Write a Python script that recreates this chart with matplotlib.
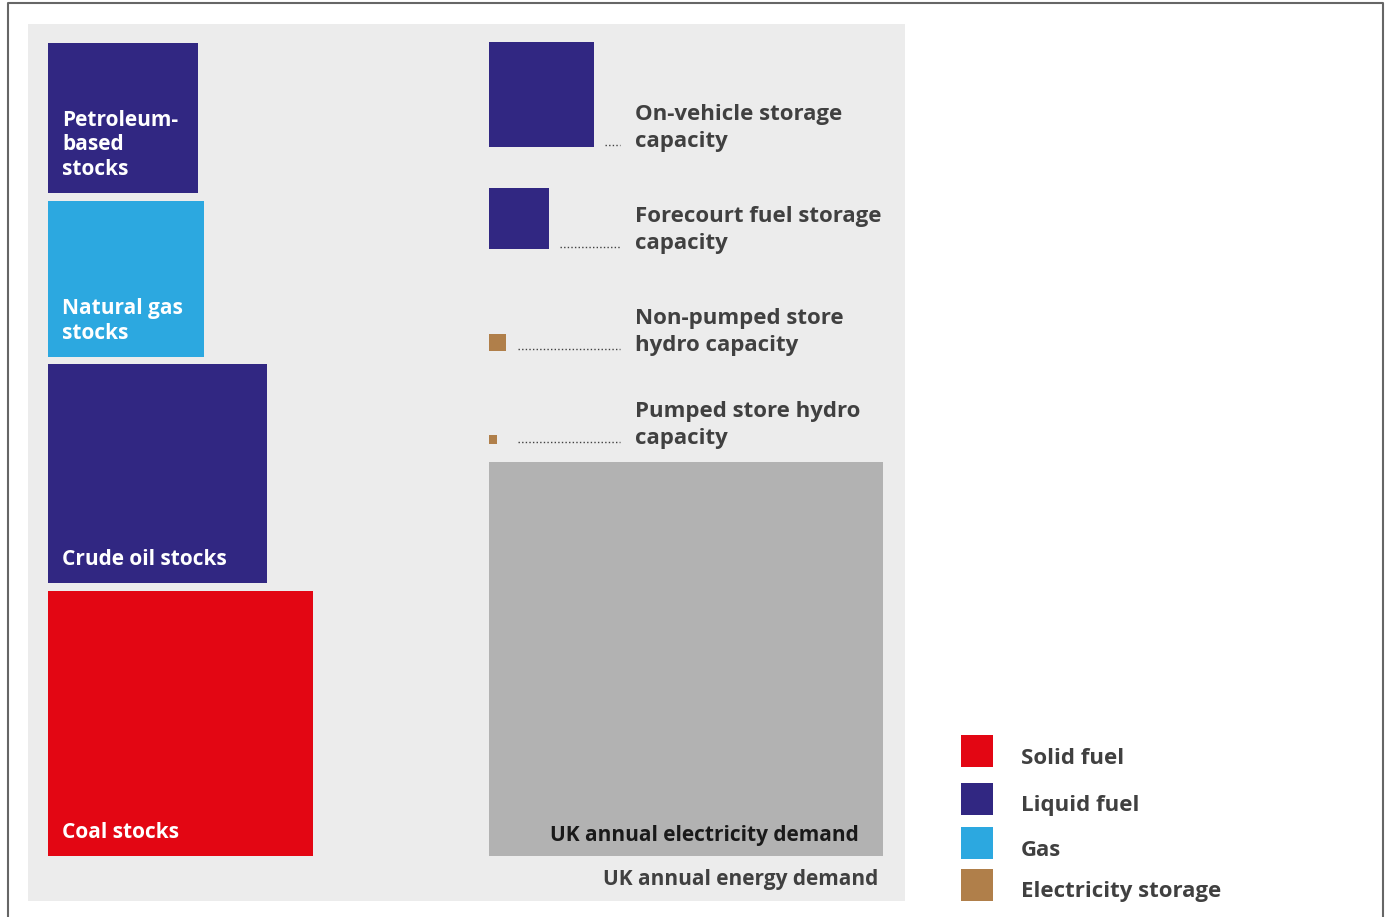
import numpy as np
import matplotlib.pyplot as plt
from matplotlib.patches import Rectangle

plt.rcParams['font.family'] = ['Open Sans', 'DejaVu Sans']

# energy quantities in TWh (square area is proportional to value)
total_demand = 1650.0
elec_demand = 333.0

left_labels = ["Petroleum-\nbased\nstocks", "Natural gas\nstocks", "Crude oil stocks", "Coal stocks"]
left_values = [48.3, 52.2, 102.9, 150.7]
left_kinds = ["liquid", "gas", "liquid", "solid"]

right_labels = ["On-vehicle storage\ncapacity", "Forecourt fuel storage\ncapacity",
                "Non-pumped store\nhydro capacity", "Pumped store hydro\ncapacity"]
right_values = [23.7, 7.98, 0.62, 0.17]
right_kinds = ["liquid", "liquid", "elec", "elec"]

legend_labels = ["Solid fuel", "Liquid fuel", "Gas", "Electricity storage"]
legend_kinds = ["solid", "liquid", "gas", "elec"]

colors = {"solid": "#e30613", "liquid": "#312782", "gas": "#2ca8e0", "elec": "#b07f4a"}
txt = "#404040"

W, H = 1389, 917
fig = plt.figure(figsize=(W / 100, H / 100), dpi=100)
ax = fig.add_axes([0, 0, 1, 1])
ax.set_xlim(0, W)
ax.set_ylim(H, 0)
ax.axis("off")

# outer frame
ax.plot([8, 8, 1383, 1383], [H + 5, 3, 3, H + 5], color="#666666", lw=1.5)

panel_x, panel_y = 28, 24
side_px = 877
k = side_px / np.sqrt(total_demand)


def side(v):
    return k * np.sqrt(v)


# whole-economy demand panel
ax.add_patch(Rectangle((panel_x, panel_y), side_px, side_px, color="#ececec", lw=0))
ax.text(878, 879, "UK annual energy demand", ha="right", va="center",
        fontsize=15, fontweight="bold", color=txt)

# electricity demand square, sitting on the coal baseline
s = side(elec_demand)
ax.add_patch(Rectangle((489, 856 - s), s, s, color="#b2b2b2", lw=0))
ax.text(859, 836, "UK annual electricity demand", ha="right", va="center",
        fontsize=15, fontweight="bold", color="#1a1a1a")

# left column: stacked upward from the bottom
bottom = 856
for lab, v, kind in zip(left_labels[::-1], left_values[::-1], left_kinds[::-1]):
    s = side(v)
    ax.add_patch(Rectangle((48, bottom - s), s, s, color=colors[kind], lw=0))
    ax.text(62, bottom - 18, lab, ha="left", va="baseline", fontsize=15,
            fontweight="bold", color="white", linespacing=1.22)
    bottom -= s + 7.7

# right column: small stores with dotted leaders to their labels
row_base = [147, 249, 351, 444]
for lab, v, kind, yb in zip(right_labels, right_values, right_kinds, row_base):
    s = side(v)
    ax.add_patch(Rectangle((488.5, yb - s), s, s, color=colors[kind], lw=0))
    x0 = max(488.5 + s + 11, 518)
    ax.plot([x0, 620], [yb - 2, yb - 2], color=txt, lw=1.0, ls=(0, (1, 1.6)))
    ax.text(635, yb, lab, ha="left", va="baseline", fontsize=16,
            fontweight="bold", color=txt, linespacing=1.36)

# legend
for i, (lab, kind) in enumerate(zip(legend_labels, legend_kinds)):
    yt = [735, 783, 827, 869][i]
    ax.add_patch(Rectangle((961, yt), 32, 32, color=colors[kind], lw=0))
    ax.text(1021, yt + 23, lab, ha="left", va="center", fontsize=16,
            fontweight="bold", color=txt)

fig.savefig("out.png", dpi=100)
